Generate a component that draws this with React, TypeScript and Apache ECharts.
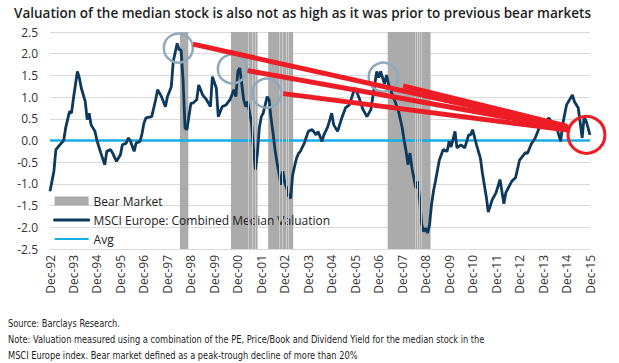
import React, { useEffect, useRef } from "react";
import * as echarts from "echarts";

const TITLE = "Valuation of the median stock is also not as high as it was prior to previous bear markets";
const FOOTNOTES = [
  "Source: Barclays Research.",
  "Note: Valuation measured using a combination of the PE, Price/Book and Dividend Yield for the median stock in the",
  "MSCI Europe index. Bear market defined as a peak-trough decline of more than 20%",
];

// x tick labels: every 12 months starting Dec-92 (month 0)
const xTickLabels = [
  "Dec-92", "Dec-93", "Dec-94", "Dec-95", "Dec-96", "Dec-97", "Dec-98", "Dec-99",
  "Dec-00", "Dec-01", "Dec-02", "Dec-03", "Dec-04", "Dec-05", "Dec-06", "Dec-07",
  "Dec-08", "Dec-09", "Dec-10", "Dec-11", "Dec-12", "Dec-13", "Dec-14", "Dec-15",
];

// months since Dec-92
const months = [
  0, 2, 3, 5, 7, 8, 9, 10, 11, 12, 14, 15, 16, 18, 19, 20, 21, 23, 24, 26, 28, 29, 31, 32, 34, 36, 37, 39, 40, 41,
  43, 44, 46, 47, 48, 49, 52, 54, 55, 57, 59, 60, 62, 63, 65, 66, 67, 68, 69, 70, 72, 73, 75, 76, 77, 78, 80, 82,
  83, 85, 86, 88, 90, 92, 94, 95, 96, 97, 99, 100, 101, 103, 104, 105, 106, 107, 108, 109, 111, 112, 113, 114,
  115, 116, 117, 118, 119, 120, 121, 122, 123, 124, 125, 126, 127, 128, 129, 130, 132, 134, 136, 137, 139, 140,
  142, 144, 145, 147, 149, 151, 153, 155, 156, 158, 160, 162, 164, 166, 167, 168, 169, 171, 172, 173, 174, 176,
  178, 180, 181, 182, 183, 184, 185, 187, 188, 189, 190, 191, 192, 193, 194, 195, 196, 197, 199, 201, 203, 204,
  205, 207, 208, 210, 212, 214, 215, 216, 218, 220, 221, 223, 224, 226, 228, 230, 232, 233, 236, 238, 240, 243,
  244, 246, 248, 250, 252, 255, 256, 259, 261, 262, 264, 267, 268, 270, 272, 273, 274, 276,
];

const valuation = [
  -1.17, -0.71, -0.21, -0.1, 0.0, 0.29, 0.48, 0.67, 0.63, 0.98, 1.59, 1.44, 1.21, 0.9, 0.48, 0.63, 0.36, 0.21, 0.0,
  -0.29, -0.56, -0.25, -0.21, -0.29, -0.48, -0.33, -0.1, -0.06, 0.06, 0.0,
  -0.25, -0.06, -0.02, 0.15, 0.4, 0.52, 0.55, 0.94, 1.17, 1.01, 0.78, 1.01, 1.24, 1.82, 2.24, 2.09, 2.09, 1.4, 0.29,
  0.25, 0.86, 0.86, 0.94, 1.28, 1.17, 1.05, 0.94, 0.78,
  1.47, 1.21, 0.55, 0.78, 0.82, 0.94, 1.17, 1.01, 1.59, 1.67, 0.94, 0.78, 0.9, 0.4, -0.2, -0.67, -0.3, 0.3, 0.55,
  0.63, 1.01, 0.94, 0.5, 0.17,
  -0.21, -0.5, -0.75, -1.02, -0.71, -0.98, -1.1, -1.29, -1.33, -0.8, -0.6, -0.41, -0.3, -0.25, -0.15, -0.06, 0.21,
  0.25, 0.13, 0.21, -0.02, 0.13,
  0.32, 0.63, 0.36, 0.21, 0.5, 0.75, 0.82, 1.1, 1.21, 0.98, 0.71, 0.55, 0.71, 1.3, 1.59, 1.45, 1.59, 1.3, 1.51, 1.3,
  1.17, 0.94,
  0.7, 0.3, 0.0, -0.25, -0.56, -0.29, -0.64, -1.1, -0.94, -1.4, -1.94, -2.1, -2.02, -2.13, -1.94, -1.48, -1.17,
  -0.94, -0.45, -0.21, -0.25, -0.02,
  -0.15, 0.21, -0.17, -0.1, -0.17, 0.13, 0.13, 0.25, -0.1, -0.41, -0.75, -1.3, -1.65, -1.37, -1.2, -0.9, -1.46,
  -1.2, -0.94, -0.85, -0.45, -0.28,
  -0.3, -0.08, 0.06, 0.29, 0.36, 0.52, 0.45, 0.29, -0.02, 0.36, 0.82, 1.05, 0.9, 0.75, 0.06, 0.55, 0.45, 0.13,
];

const avgValue = 0;

// bear market periods (months since Dec-92)
const bearStart = [66.4, 92.5, 111.5, 172.6];
const bearEnd = [70.7, 106.1, 124.3, 194.5];
// thin lighter stripes inside the bear-market bands
const bearStripes = [101.2, 103.2, 104.8, 117.2, 118.9, 120.6, 122.0, 186.5, 187.7, 188.7, 189.6];

// annotation anchors in data coordinates [month, value]
const greyCircles = [
  [65.6, 2.13],
  [93.2, 1.65],
  [110.7, 1.09],
  [170.3, 1.46],
];
const redCircle = [274.2, 0.13];
const arrowStarts = [
  [73.1, 2.22],
  [101.0, 1.61],
  [119.2, 1.08],
  [180.5, 1.26],
];
const arrowEnds = [
  [264.7, 0.3],
  [264.7, 0.28],
  [264.7, 0.24],
  [264.2, 0.33],
];

const FONT = "'Open Sans', 'Noto Sans', sans-serif";
const NAVY = "#0d3a5c";
const CYAN = "#16ade6";
const BEAR = "#ababab";

export default function App() {
  const ref = useRef<HTMLDivElement>(null);

  useEffect(() => {
    if (!ref.current) return;
    const chart = echarts.init(ref.current, undefined, { renderer: "svg" });

    const lineData = months.map((m, i) => [m, valuation[i]]);
    const maxMonth = (xTickLabels.length - 1) * 12;

    const option: any = {
      animation: false,
      backgroundColor: "#ffffff",
      textStyle: { fontFamily: FONT },
      title: {
        text: TITLE,
        left: 9,
        top: 1,
        textStyle: { fontFamily: FONT, fontSize: 13.5, fontWeight: 600, color: "#1e1e1e" },
      },
      grid: { left: 50, right: 29, top: 32, bottom: 114, containLabel: false },
      legend: {
        orient: "vertical",
        left: 48,
        top: 189,
        itemGap: 5,
        itemWidth: 34,
        itemHeight: 9,
        textStyle: { fontFamily: FONT, fontSize: 12, color: "#222", lineHeight: 14 },
        data: [
          { name: "Bear Market", icon: "rect" },
          {
            name: "MSCI Europe: Combined Median Valuation",
            itemStyle: { opacity: 0 },
            lineStyle: { width: 3.2, color: NAVY, cap: "round" },
          },
          { name: "Avg", itemStyle: { opacity: 0 }, lineStyle: { width: 2.2, color: CYAN } },
        ],
      },
      xAxis: {
        type: "value",
        min: 0,
        max: maxMonth,
        interval: 12,
        axisLine: { show: false },
        axisTick: { show: false },
        splitLine: { show: false },
        axisLabel: {
          rotate: 90,
          margin: 6,
          fontFamily: FONT,
          fontSize: 12,
          color: "#333",
          formatter: (v: number) => xTickLabels[Math.round(v / 12)] ?? "",
        },
      },
      yAxis: {
        type: "value",
        min: -2.5,
        max: 2.5,
        interval: 0.5,
        axisLine: { show: false },
        axisTick: { show: false },
        axisLabel: {
          margin: 12,
          fontFamily: FONT,
          fontSize: 12,
          color: "#333",
          formatter: (v: number) => v.toFixed(1),
        },
        splitLine: { lineStyle: { color: "#dadada", width: 1 } },
      },
      series: [
        {
          name: "Bear Market",
          type: "line",
          data: [],
          color: BEAR,
          itemStyle: { color: BEAR },
          silent: true,
          markArea: {
            silent: true,
            itemStyle: { color: BEAR, opacity: 1 },
            data: bearStart.map((s, i) => [{ xAxis: s }, { xAxis: bearEnd[i] }]),
          },
          markLine: {
            silent: true,
            symbol: ["none", "none"],
            label: { show: false },
            lineStyle: { color: "#c9c9c9", width: 1, type: "solid" },
            data: bearStripes.map((x) => ({ xAxis: x })),
          },
          z: 1,
        },
        {
          name: "Avg",
          type: "line",
          data: [
            [0, avgValue],
            [maxMonth, avgValue],
          ],
          color: CYAN,
          symbol: "none",
          lineStyle: { color: CYAN, width: 2.5 },
          z: 3,
        },
        {
          name: "MSCI Europe: Combined Median Valuation",
          type: "line",
          data: lineData,
          color: NAVY,
          symbol: "none",
          lineStyle: { color: NAVY, width: 2.8 },
          z: 4,
        },
      ],
    };

    chart.setOption(option);

    const px = (p: number[]) => chart.convertToPixel({ gridIndex: 0 }, p) as number[];
    const graphics: any[] = [];
    greyCircles.forEach((c) => {
      const [x, y] = px(c);
      graphics.push({
        type: "circle",
        shape: { cx: x, cy: y, r: 14.5 },
        style: { fill: "none", stroke: "#8eaabb", lineWidth: 2.5 },
        z: 10,
      });
    });
    arrowStarts.forEach((s, i) => {
      const [x1, y1] = px(s);
      const [x2, y2] = px(arrowEnds[i]);
      graphics.push({
        type: "line",
        shape: { x1, y1, x2, y2 },
        style: { stroke: "#ee1c25", lineWidth: 5 },
        z: 11,
      });
    });
    {
      const [x, y] = px(redCircle);
      graphics.push({
        type: "circle",
        shape: { cx: x, cy: y, r: 18.5 },
        style: { fill: "none", stroke: "#ee1c25", lineWidth: 3 },
        z: 12,
      });
    }
    const footY = [323, 339, 355];
    FOOTNOTES.forEach((t, i) => {
      graphics.push({
        type: "text",
        x: 8,
        y: footY[i],
        scaleX: 0.875,
        style: {
          text: t,
          fill: "#1e1e1e",
          font: "10.5px 'Liberation Sans Narrow', 'DejaVu Sans Condensed', sans-serif",
          verticalAlign: "middle",
        },
        z: 20,
      });
    });
    chart.setOption({ graphic: graphics });

    return () => chart.dispose();
  }, []);

  return <div ref={ref} style={{ width: 619, height: 363, position: "absolute", left: 0, top: 0 }} />;
}
